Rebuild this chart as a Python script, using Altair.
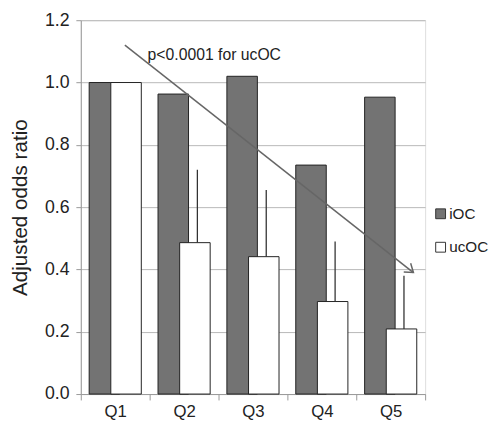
import altair as alt
import pandas as pd

# ---- data ----
quintiles = ["Q1", "Q2", "Q3", "Q4", "Q5"]
ioc = [1.0, 0.963, 1.02, 0.735, 0.953]
ucoc = [1.0, 0.486, 0.441, 0.297, 0.209]
ucoc_upper = [None, 0.72, 0.655, 0.49, 0.38]
series = ["iOC", "ucOC"]
series_fill = ["#737373", "#ffffff"]

# trend arrow (x in quintile-index units, y in odds ratio)
arrow_x = [1.14, 5.33]
arrow_y = [1.12, 0.39]
label_text = ["p<0.0001 for ucOC"]
label_x = [1.47]
label_y = [1.087]

FONT = "Liberation Sans"

df = pd.DataFrame({"q": quintiles, "iOC": ioc, "ucOC": ucoc, "upper": ucoc_upper})
arrow_df = pd.DataFrame({"ax": arrow_x, "ay": arrow_y})
head_df = arrow_df.tail(1)
label_df = pd.DataFrame({"lx": label_x, "ly": label_y, "t": label_text})

xcat = alt.X(
    "q:N",
    sort=quintiles,
    scale=alt.Scale(paddingInner=0, paddingOuter=0),
    axis=alt.Axis(
        title=None, labelAngle=0, tickBand="extent", tickSize=6,
        domainColor="#999999", tickColor="#999999", labelFontSize=17,
        labelColor="#222222", labelPadding=4, grid=False,
    ),
)
yscale = alt.Scale(domain=[0, 1.2], nice=False)
yaxis = alt.Axis(
    values=[0, 0.2, 0.4, 0.6, 0.8, 1.0, 1.2], format=".1f", grid=True,
    gridColor="#b8b8b8", domainColor="#999999", tickColor="#999999",
    tickSize=5, labelFontSize=18, labelColor="#222222", labelPadding=7,
    title="Adjusted odds ratio", titleFontSize=21, titleFontWeight="normal",
    titleColor="#222222", titlePadding=14,
)
fill_scale = alt.Scale(domain=series, range=series_fill)
legend = alt.Legend(
    title=None, orient="none", legendX=358, legendY=189, symbolType="square",
    symbolSize=100, symbolStrokeColor="#333333", symbolStrokeWidth=1,
    labelFontSize=15.5, labelColor="#222222", rowPadding=17, labelOffset=1,
)

base = alt.Chart(df)

bars_i = base.transform_calculate(s="'iOC'").mark_bar(
    xOffset=-11, width=31, stroke="#222222", strokeWidth=1
).encode(
    x=xcat,
    y=alt.Y("iOC:Q", scale=yscale, axis=yaxis),
    fill=alt.Fill("s:N", scale=fill_scale, legend=legend),
)
bars_u = base.transform_calculate(s="'ucOC'").mark_bar(
    xOffset=11, width=31, stroke="#222222", strokeWidth=1
).encode(
    x=xcat,
    y=alt.Y("ucOC:Q"),
    fill=alt.Fill("s:N", scale=fill_scale, legend=legend),
)
errs = base.transform_filter("isValid(datum.upper)").mark_rule(
    xOffset=13.5, color="#333333", strokeWidth=1.3
).encode(x=xcat, y=alt.Y("ucOC:Q"), y2="upper:Q")

xann = alt.Scale(domain=[0.5, 5.5])
arrow = alt.Chart(arrow_df).mark_line(color="#666666", strokeWidth=1.5).encode(
    x=alt.X("ax:Q", scale=xann, axis=None), y=alt.Y("ay:Q")
)
head = alt.Chart(head_df).mark_point(
    shape="M -1 -0.7 L 0 0 L -1 0.7", angle=38.5, filled=False,
    stroke="#666666", strokeWidth=1.5, size=260, opacity=1,
).encode(x=alt.X("ax:Q", scale=xann, axis=None), y=alt.Y("ay:Q"))
label = alt.Chart(label_df).mark_text(
    align="left", baseline="middle", fontSize=16, color="#222222", font=FONT
).encode(x=alt.X("lx:Q", scale=xann, axis=None), y=alt.Y("ly:Q"), text="t:N")

bars = alt.layer(bars_i, bars_u, errs)
ann = alt.layer(arrow, head, label)

chart = alt.layer(bars, ann).resolve_scale(x="independent").properties(
    width=350, height=380,
    autosize=alt.AutoSizeParams(type="none"),
    padding={"left": 74, "top": 9, "right": 69, "bottom": 26},
).configure_view(stroke=None).configure(font=FONT)

chart.save("out.html", embed_options={"renderer": "svg", "actions": False})
